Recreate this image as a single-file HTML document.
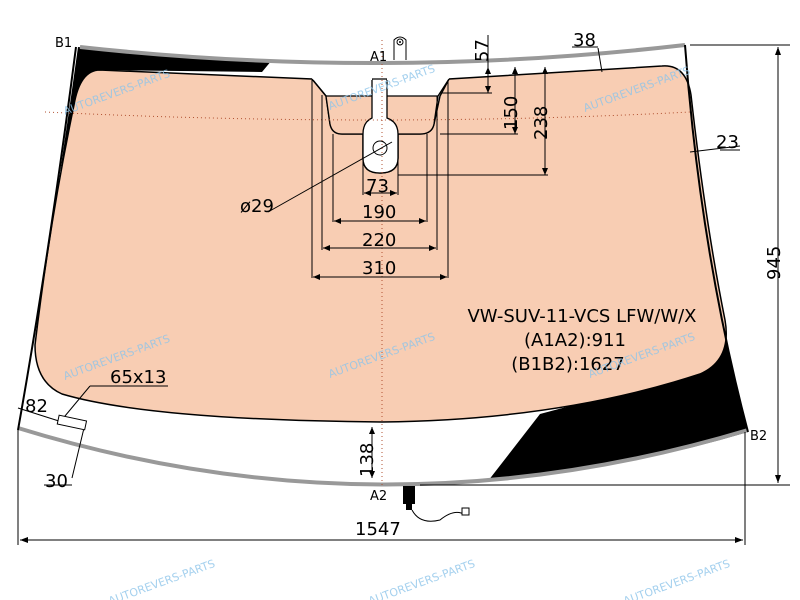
<!DOCTYPE html>
<html><head><meta charset="utf-8"><style>html,body{margin:0;padding:0;background:#fff}svg{display:block}text{font-family:"DejaVu Sans","Liberation Sans",sans-serif}</style></head>
<body>
<svg width="800" height="600" viewBox="0 0 800 600" xmlns="http://www.w3.org/2000/svg">
<defs><clipPath id="g"><path d="M78,47 Q382,80 685,45 Q700,250 748,432 Q382,540 18,430 Q50,250 78,47 Z"/></clipPath></defs>
<path d="M78,47 Q382,80 685,45 Q700,250 748,432 Q382,540 18,430 Q50,250 78,47 Z" fill="#fff"/>
<g clip-path="url(#g)">
<path d="M60,30 L280,30 L272,60 L262,72 L100,70 Q80,74 76,110 L50,210 L40,210 Z" fill="#000"/>
<path d="M700,190 L770,190 L770,520 L470,520 L488,481 L540,414 L600,398 L712,350 Z" fill="#000"/>
</g>
<path d="M100,70 L312,79 L326,96 L330,124 Q332,134 342,134 L363,134 L363,158 Q363,173 380,173 Q398,173 398,158 L398,134 L420,134 Q432,134 434,124 L440,96 L449,79 L662,66 Q686,64 691,95 Q705,220 725,320 Q732,360 700,374 Q560,420 382,422 Q150,420 62,394 Q35,382 35,345 Q50,220 74,105 Q80,70 100,70 Z" fill="#f8cdb3" stroke="#000" stroke-width="1.5"/>
<path d="M326,96 L372,96 L372,118 Q363,124 363,134 L342,134 Q332,134 330,124 Z" fill="#f8cdb3"/>
<path d="M387,96 L438,96 L434,124 Q432,134 420,134 L398,134 Q398,124 387,118 Z" fill="#f8cdb3"/>
<path d="M372,79 L372,118 Q363,122 363,134 L363,158 Q363,173 380,173 Q398,173 398,158 L398,134 Q398,122 387,118 L387,79 Z" fill="#fff" stroke="#000" stroke-width="1.3"/>
<path d="M312,79 L372,79 M387,79 L449,79" stroke="#fff" stroke-width="2"/>
<path d="M312,79 L326,96 L330,124 Q332,134 342,134 L363,134 M398,134 L420,134 Q432,134 434,124 L438,96 L449,79 M326,96 L372,96 M387,96 L438,96" fill="none" stroke="#000" stroke-width="1.3"/>
<path d="M80,47 Q382,80 685,45" fill="none" stroke="#999" stroke-width="4"/>
<path d="M18,428 Q382,540 748,430" fill="none" stroke="#999" stroke-width="4"/>
<path d="M76,47 Q50,250 18,430 M685,45 Q700,250 748,432" fill="none" stroke="#000" stroke-width="2"/>
<path d="M45,112 Q382,128 690,112" fill="none" stroke="#b05030" stroke-width="1" stroke-dasharray="1,3"/>
<line x1="382" y1="40" x2="382" y2="485" stroke="#b05030" stroke-width="1" stroke-dasharray="1,3"/>
<path d="M394,60 L394,40 Q400,34 406,40 L406,60" fill="#fff" stroke="#000"/>
<circle cx="400" cy="42" r="3" fill="none" stroke="#000"/><circle cx="400" cy="42" r="1" fill="#000"/>
<g stroke="#000" stroke-width="1" fill="none">
<path d="M312,80 V278 M322,95 V250 M333,134 V222 M363,160 V195 M398,160 V195 M427,134 V222 M437,96 V250 M448,80 V278"/>
<path d="M313,277 H447 M323,248 H436 M334,221 H426 M364,193 H397"/>
<path d="M488,35 V93 M515,67 V134 M545,67 V175 M398,175 H548 M440,134 H518 M440,93 H492"/>
<path d="M690,45 H790 M420,485 H790 M778,47 V483"/>
<path d="M18,430 V545 M745,432 V545 M20,540 H743"/>
<path d="M268,212 L392,142 M598,48 L602,72 M572,47 H598 M690,152 L740,146 M720,150 H740"/>
<path d="M18,408 L62,422 M60,422 L90,386 M90,386 H168 M84,428 L72,478 M44,485 H72"/>
<path d="M372,427 V478"/>
<path d="M412,510 Q420,525 440,520 Q455,508 465,515"/>
</g>
<g fill="#000">
<path d="M313,277 l7,-3 v6z M447,277 l-7,-3 v6z M323,248 l7,-3 v6z M436,248 l-7,-3 v6z M334,221 l7,-3 v6z M426,221 l-7,-3 v6z M364,193 l7,-3 v6z M397,193 l-7,-3 v6z"/>
<path d="M488,67 l-3,7 h6z M488,93 l-3,-7 h6z M515,67 l-3,7 h6z M515,134 l-3,-7 h6z M545,67 l-3,7 h6z M545,175 l-3,-7 h6z"/>
<path d="M778,47 l-3,8 h6z M778,483 l-3,-8 h6z M20,540 l8,-3 v6z M743,540 l-8,-3 v6z M372,427 l-3,7 h6z M372,478 l-3,-7 h6z"/>
<path d="M403,486 h12 v18 h-3 v6 h-6 v-6 h-3z"/>
</g>
<rect x="462" y="508" width="7" height="7" fill="#fff" stroke="#000"/>
<rect x="58" y="418" width="28" height="9" fill="#fff" stroke="#000" transform="rotate(12 72 422)"/>
<circle cx="380" cy="148" r="7" fill="none" stroke="#000"/>
<g font-size="18" fill="#000">
<text x="240" y="212">ø29</text>
<text x="366" y="192">73</text>
<text x="362" y="218">190</text>
<text x="362" y="246">220</text>
<text x="362" y="274">310</text>
<text x="573" y="46">38</text>
<text x="716" y="148">23</text>
<text x="110" y="383">65x13</text>
<text x="25" y="412">82</text>
<text x="45" y="487">30</text>
<text x="355" y="535">1547</text>
<text transform="translate(488,62) rotate(-90)">57</text>
<text transform="translate(517,130) rotate(-90)">150</text>
<text transform="translate(547,140) rotate(-90)">238</text>
<text transform="translate(780,280) rotate(-90)">945</text>
<text transform="translate(373,477) rotate(-90)">138</text>
</g>
<g font-size="18" fill="#000" text-anchor="middle">
<text x="582" y="322">VW-SUV-11-VCS LFW/W/X</text>
<text x="575" y="346">(A1A2):911</text>
<text x="568" y="370">(B1B2):1627</text>
</g>
<g font-size="13" fill="#000">
<text x="55" y="47">B1</text><text x="370" y="61">A1</text><text x="370" y="500">A2</text><text x="750" y="440">B2</text>
</g>
<g fill="#8ec5ea" font-size="11" opacity="0.8">
<text transform="translate(65,115) rotate(-20)">AUTOREVERS-PARTS</text>
<text transform="translate(330,110) rotate(-20)">AUTOREVERS-PARTS</text>
<text transform="translate(585,112) rotate(-20)">AUTOREVERS-PARTS</text>
<text transform="translate(65,380) rotate(-20)">AUTOREVERS-PARTS</text>
<text transform="translate(330,378) rotate(-20)">AUTOREVERS-PARTS</text>
<text transform="translate(590,378) rotate(-20)">AUTOREVERS-PARTS</text>
<text transform="translate(110,605) rotate(-20)">AUTOREVERS-PARTS</text>
<text transform="translate(370,605) rotate(-20)">AUTOREVERS-PARTS</text>
<text transform="translate(625,605) rotate(-20)">AUTOREVERS-PARTS</text>
</g>
</svg>
</body></html>
